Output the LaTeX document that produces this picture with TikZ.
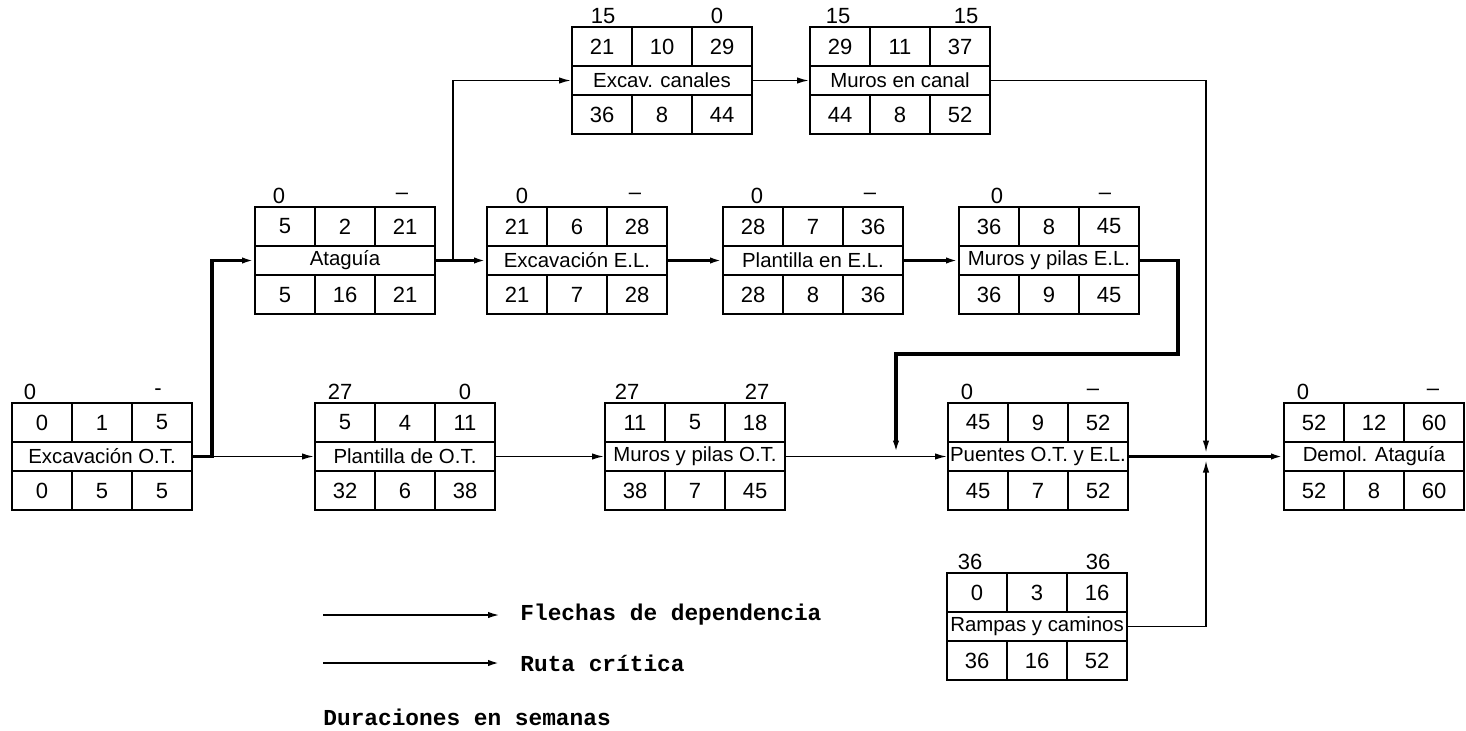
\documentclass[tikz,border=0pt]{standalone}
\usepackage{fontspec}
\setmainfont{Liberation Sans}
\newfontfamily\legfont{Liberation Mono}
\usetikzlibrary{arrows.meta,calc}

\tikzset{
 boxst/.style={draw, line width=1pt, minimum width=90pt, minimum height=53.5pt, inner sep=0pt},
 cell/.style={line width=0.9pt},
 num/.style={font=\fontsize{11}{12}\selectfont, inner sep=0pt},
 midtxt/.style={font=\fontsize{10.2}{11}\selectfont, inner sep=0pt},
 lbl/.style={font=\fontsize{11}{12}\selectfont, inner sep=0pt},
 dep/.style={line width=0.8pt},
 crit/.style={line width=1.7pt},
 arr/.style={-{Latex[length=6pt,width=3.2pt]}},
 leg/.style={font=\legfont\bfseries\fontsize{11.4}{13}\selectfont, inner sep=0pt, anchor=west},
}

\def\parsethree#1/#2/#3\relax{\def\pa{#1}\def\pb{#2}\def\pc{#3}}
\def\parsefour#1/#2/#3/#4\relax{\def\la{#1}\def\lb{#2}\def\lc{#3}\def\ld{#4}}

% name, left, top, top row, middle text, bottom row, labels (xoff/text/xoff/text)
\newcommand\actbox[7]{%
 \node[boxst] (#1) at (#2+90,#3+53.5) {};
 \draw[cell] (#2,#3+39) -- (#2+180,#3+39) (#2,#3+68) -- (#2+180,#3+68)
   (#2+60,#3) -- (#2+60,#3+39) (#2+120,#3) -- (#2+120,#3+39)
   (#2+60,#3+68) -- (#2+60,#3+107) (#2+120,#3+68) -- (#2+120,#3+107);
 \parsethree#4\relax
 \node[num] (#1-t1) at (#2+30,#3+19.5) {\pa};
 \node[num] (#1-t2) at (#2+90,#3+19.5) {\pb};
 \node[num] (#1-t3) at (#2+150,#3+19.5) {\pc};
 \node[midtxt] (#1-m) at (#2+90,#3+53.5) {#5};
 \parsethree#6\relax
 \node[num] (#1-b1) at (#2+30,#3+88) {\pa};
 \node[num] (#1-b2) at (#2+90,#3+88) {\pb};
 \node[num] (#1-b3) at (#2+150,#3+88) {\pc};
 \parsefour#7\relax
 \node[lbl] (#1-ll) at (#2+\la,#3-11) {\lb};
 \node[lbl] (#1-lr) at (#2+\lc,#3-11) {\ld};
}

\begin{document}
\begin{tikzpicture}[x=0.5pt,y=-0.5pt]
\path[fill=white,use as bounding box] (0,0) rectangle (1466,730);

\actbox{excOT}{12}{403}{0/1/5}{Excavación O.T.}{0/5/5}{18/0/146/-}
\actbox{atag}{255}{207}{5/2/21}{Ataguía}{5/16/21}{24/0/147/–}
\actbox{plOT}{315}{403}{5/4/11}{Plantilla de O.T.}{32/6/38}{25/27/150/0}
\actbox{murOT}{605}{403}{11/5/18}{Muros y pilas O.T.}{38/7/45}{22/27/152/27}
\actbox{puen}{948}{403}{45/9/52}{Puentes O.T. y E.L.}{45/7/52}{19/0/145/–}
\actbox{demol}{1284}{403}{52/12/60}{Demol. Ataguía}{52/8/60}{19/0/149/–}
\actbox{excEL}{487}{207}{21/6/28}{Excavación E.L.}{21/7/28}{35/0/148/–}
\actbox{plEL}{723}{207}{28/7/36}{Plantilla en E.L.}{28/8/36}{34/0/147/–}
\actbox{murEL}{959}{207}{36/8/45}{Muros y pilas E.L.}{36/9/45}{38/0/146/–}
\actbox{excCan}{572}{27}{21/10/29}{Excav. canales}{36/8/44}{31/15/145/0}
\actbox{murCan}{810}{27}{29/11/37}{Muros en canal}{44/8/52}{28/15/156/15}
\actbox{ramp}{947}{573}{0/3/16}{Rampas y caminos}{36/16/52}{23/36/151/36}

\coordinate (jP) at (896,456.5);
\coordinate (jD) at (1206,456.5);

% dependency arrows
\draw[dep,arr] (excOT.east) -- (plOT.west);
\draw[dep,arr] (plOT.east) -- (murOT.west);
\draw[dep,arr] (murOT.east) -- (puen.west);
\draw[dep,arr] (atag.east) -- ++(17,0) |- (excCan.west);
\draw[dep,arr] (excCan.east) -- (murCan.west);
\draw[dep,arr,shorten >=2pt] (murCan.east) -| (jD);
\draw[dep,arr,shorten >=2pt] (ramp.east) -| (jD);

% critical path
\draw[crit,arr] (excOT.east) -- ++(19,0) |- (atag.west);
\draw[crit,arr] (atag.east) -- (excEL.west);
\draw[crit,arr] (excEL.east) -- (plEL.west);
\draw[crit,arr] (plEL.east) -- (murEL.west);
\draw[crit,arr,shorten >=2pt] (murEL.east) -- ++(38,0) -- ++(0,93.5) -| (jP);
\draw[crit,arr] (puen.east) -- (demol.west);

% legend
\coordinate (la) at (323,615);
\node[leg] (lt1) at (520,615) {Flechas de dependencia};
\draw[dep,line width=1pt,arr,shorten >=10pt] (la) -- (lt1.west);
\coordinate (lb) at (323,663);
\node[leg] (lt2) at (520,663) {Ruta crítica};
\draw[dep,line width=1.2pt,arr,shorten >=10pt] (lb) -- (lt2.west);
\node[leg] (lt3) at (323,717) {Duraciones en semanas};
\end{tikzpicture}
\end{document}
